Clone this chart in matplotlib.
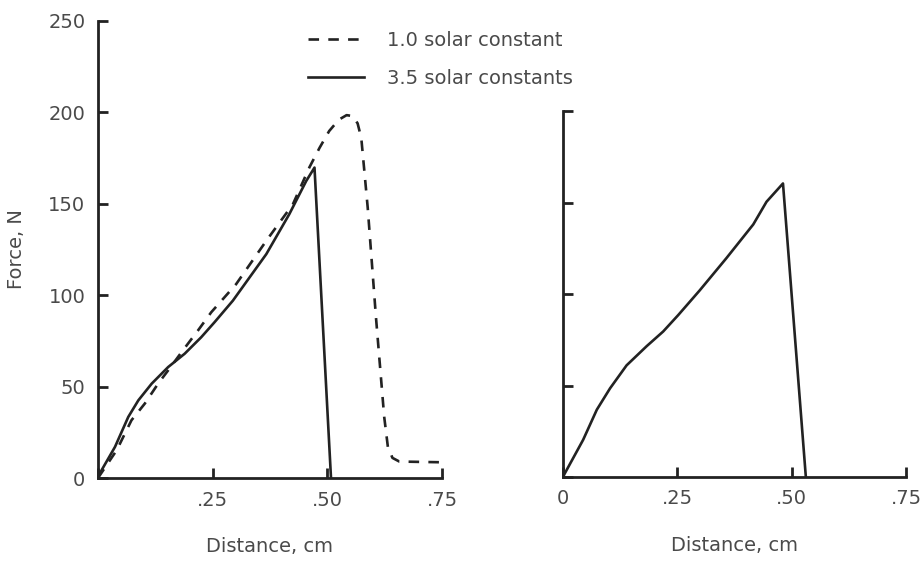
import matplotlib
matplotlib.use('Agg')
import matplotlib.pyplot as plt

plt.rcParams['font.family'] = 'DejaVu Sans'
plt.rcParams['font.size'] = 14

# Left panel: 1.0 solar constant (dashed) and 3.5 solar constants (solid)
left_solid_x = [0, 0.004, 0.037, 0.066, 0.088, 0.117, 0.153, 0.189, 0.225, 0.254,
                0.294, 0.367, 0.417, 0.454, 0.472, 0.508]
left_solid_y = [0, 2.6, 17, 33.4, 42.5, 51.6, 60.7, 68, 77, 85.2,
                97, 122.5, 144.3, 162.5, 169.8, 0]

left_dash_x = [0, 0.041, 0.073, 0.102, 0.131, 0.153, 0.185, 0.218, 0.247, 0.301,
               0.367, 0.425, 0.461, 0.483, 0.504, 0.525, 0.542, 0.555, 0.566, 0.574,
               0.580, 0.588, 0.606, 0.624, 0.632, 0.642, 0.657, 0.75]
left_dash_y = [0, 15.3, 31.6, 40.7, 51.6, 58.9, 69.8, 80.7, 90.7, 106,
               129.8, 149.8, 170, 180.6, 189.8, 196, 198.5, 198, 194, 186,
               169.8, 148, 88, 33.4, 17, 11, 9, 8.6]

# Right panel: single solid curve
right_x = [0, 0.004, 0.044, 0.074, 0.103, 0.139, 0.183, 0.219, 0.252, 0.299,
           0.357, 0.416, 0.445, 0.481, 0.531]
right_y = [0, 2, 20.3, 36.8, 48.5, 61, 71.5, 79.5, 88.5, 102,
           119.5, 138, 150.4, 160.4, 0]

x_ticks = [0, 0.25, 0.5, 0.75]
x_labels_left = ['', '.25', '.50', '.75']
x_labels_right = ['0', '.25', '.50', '.75']
y_ticks_left = [0, 50, 100, 150, 200, 250]
y_ticks_right = [0, 50, 100, 150, 200]

line_color = '#222222'
text_color = '#4a4a4a'

W, H = 923, 567
fig = plt.figure(figsize=(W / 100, H / 100), dpi=100)
fig.patch.set_facecolor('white')

ax1 = fig.add_axes([98 / W, (H - 478) / H, (442 - 98) / W, (478 - 21) / H])
ax2 = fig.add_axes([563 / W, (H - 477) / H, (906 - 563) / W, (477 - 111) / H])

for ax in (ax1, ax2):
    for s in ('top', 'right'):
        ax.spines[s].set_visible(False)
    for s in ('left', 'bottom'):
        ax.spines[s].set_linewidth(2.0)
        ax.spines[s].set_color(line_color)
    ax.tick_params(direction='in', length=7, width=2, color=line_color,
                   labelcolor=text_color, labelsize=14)
    ax.tick_params(axis='y', pad=9)
    ax.tick_params(axis='x', pad=9)
    ax.set_xlim(0, 0.75)
    ax.set_xticks(x_ticks)
    ax.set_xlabel('Distance, cm', color=text_color, fontsize=14, labelpad=20)

ax1.plot(left_dash_x, left_dash_y, color=line_color, lw=1.9, dashes=(4, 3.5),
         label='1.0 solar constant')
ax1.plot(left_solid_x, left_solid_y, color=line_color, lw=1.9,
         label='3.5 solar constants')
ax1.set_ylim(0, 250)
ax1.set_yticks(y_ticks_left)
ax1.set_xticklabels(x_labels_left)
ax1.set_ylabel('Force, N', color=text_color, fontsize=14, labelpad=16)

ax2.plot(right_x, right_y, color=line_color, lw=1.9)
ax2.set_ylim(0, 200)
ax2.set_yticks(y_ticks_right)
ax2.set_yticklabels([])
ax2.set_xticklabels(x_labels_right)

leg = ax1.legend(loc='upper left', bbox_to_anchor=(290 / W, 1 - 13 / H),
                 bbox_transform=fig.transFigure, frameon=False, fontsize=14,
                 handlelength=2.9, handletextpad=1.2, labelspacing=1.0)
for t in leg.get_texts():
    t.set_color(text_color)

plt.savefig('out.png', dpi=100, facecolor='white')
plt.close()
